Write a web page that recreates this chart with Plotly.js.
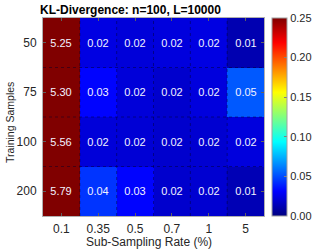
<!DOCTYPE html>
<html>
<head>
<meta charset="utf-8">
<script src="https://cdn.plot.ly/plotly-3.0.1.min.js"></script>
<style>html,body{margin:0;padding:0;background:#fff}#chart{width:332px;height:249px}</style>
</head>
<body>
<div id="chart"></div>
<script>
// Data
const rates = ['0.1', '0.35', '0.5', '0.7', '1', '5'];
const samples = ['50', '75', '100', '200'];
const row50  = [5.25, 0.024, 0.022, 0.023, 0.024, 0.012];
const row75  = [5.30, 0.032, 0.022, 0.019, 0.023, 0.053];
const row100 = [5.56, 0.022, 0.021, 0.019, 0.020, 0.023];
const row200 = [5.79, 0.044, 0.032, 0.019, 0.020, 0.013];
const cbTicks = [0, 0.05, 0.10, 0.15, 0.20, 0.25];

const jet = [[0,'rgb(0,0,128)'],[0.125,'rgb(0,0,255)'],[0.375,'rgb(0,255,255)'],
             [0.625,'rgb(255,255,0)'],[0.875,'rgb(255,0,0)'],[1,'rgb(128,0,0)']];

const font = 'Liberation Sans, Arial, sans-serif';
const trace = {
  type: 'heatmap',
  x: rates, y: samples,
  z: [row50, row75, row100, row200],
  zmin: 0, zmax: 0.25,
  colorscale: jet,
  texttemplate: '%{z:.2f}',
  textfont: {family: font, size: 11, color: '#f2f2ff'},
  hoverinfo: 'skip',
  colorbar: {
    x: 1.0345, xanchor: 'left', xpad: 0, ypad: 0,
    y: 0.5, yanchor: 'middle', len: 1, lenmode: 'fraction',
    thickness: 15, outlinecolor: '#a0a0a0', outlinewidth: 1,
    tickvals: cbTicks, ticktext: cbTicks.map(v => v.toFixed(2)),
    ticks: 'inside', ticklen: 3, tickcolor: '#808080',
    tickfont: {family: font, size: 11, color: '#262626'}
  }
};

const shapes = [];
for (let i = 1; i < rates.length; i++) {
  shapes.push({type: 'line', xref: 'x', yref: 'paper', x0: i - 0.5, x1: i - 0.5, y0: 0, y1: 1,
    line: {color: 'rgba(0,0,40,0.45)', width: 1, dash: 'dot'}, layer: 'above'});
}
for (let j = 1; j < samples.length; j++) {
  shapes.push({type: 'line', xref: 'paper', yref: 'y', x0: 0, x1: 1, y0: j - 0.5, y1: j - 0.5,
    line: {color: 'rgba(0,0,40,0.45)', width: 1, dash: 'dot'}, layer: 'above'});
}

const axisCommon = {
  ticks: 'inside', ticklen: 3, tickcolor: '#606060',
  showline: true, linecolor: '#b0b0b0', linewidth: 1, mirror: 'ticks',
  showgrid: false, zeroline: false,
  tickfont: {family: font, size: 12, color: '#262626'}
};

const layout = {
  width: 332, height: 249,
  margin: {l: 43, r: 68, t: 18, b: 33},
  paper_bgcolor: '#fff', plot_bgcolor: '#fff',
  title: {text: '<b>KL-Divergence: n=100, L=10000</b>', xref: 'container', x: 0.393, xanchor: 'center',
          yref: 'container', y: 0.962, yanchor: 'middle',
          font: {family: font, size: 12, color: '#000'}},
  xaxis: Object.assign({}, axisCommon, {type: 'category', ticklabelstandoff: 2}),
  yaxis: Object.assign({}, axisCommon, {type: 'category', autorange: 'reversed', ticklabelstandoff: 3}),
  annotations: [
    {text: 'Sub-Sampling Rate (%)', xref: 'paper', yref: 'paper', x: 0.48, y: -0.131,
     xanchor: 'center', yanchor: 'middle', showarrow: false,
     font: {family: font, size: 12, color: '#262626'}},
    {text: 'Training Samples', xref: 'paper', yref: 'paper', x: -0.149, y: 0.47, textangle: -90,
     xanchor: 'center', yanchor: 'middle', showarrow: false,
     font: {family: font, size: 10.5, color: '#262626'}}
  ],
  shapes: shapes
};

Plotly.newPlot('chart', [trace], layout, {displayModeBar: false, staticPlot: true});
</script>
</body>
</html>
